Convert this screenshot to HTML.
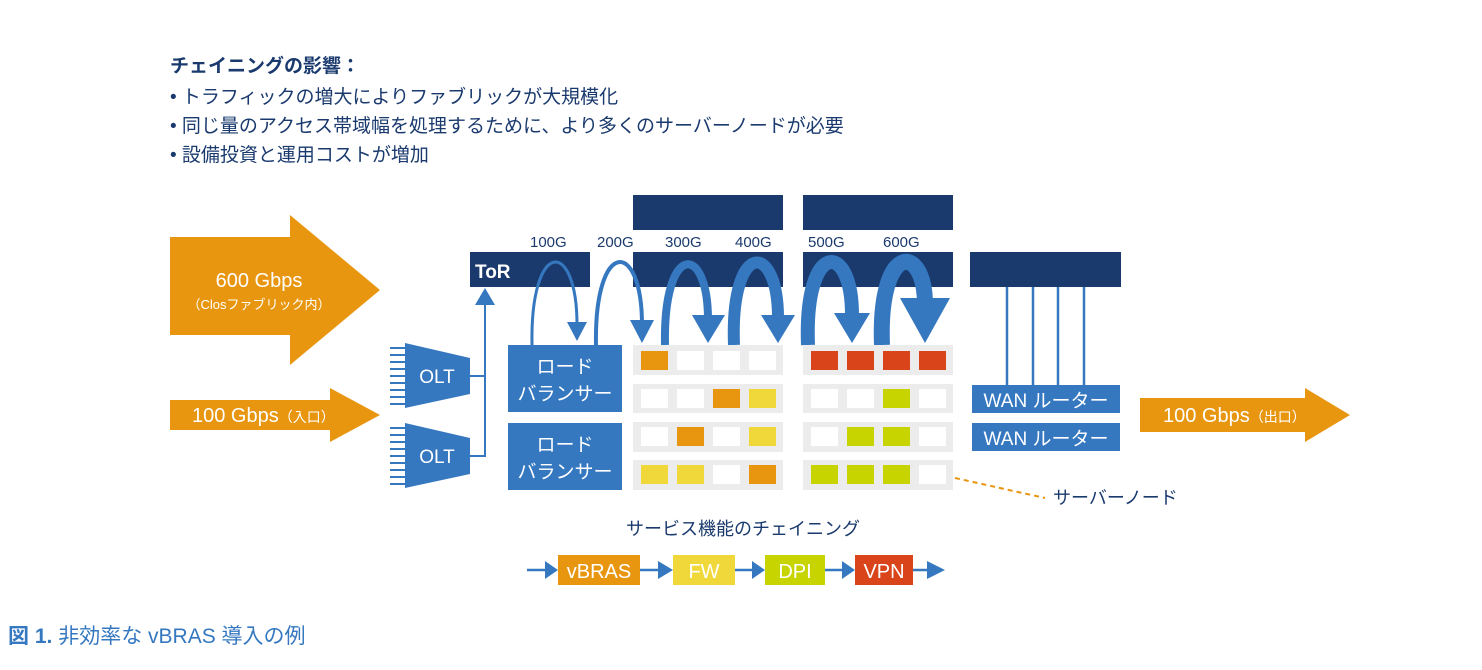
<!DOCTYPE html>
<html><head><meta charset="utf-8"><style>
body{margin:0;background:#fff;width:1482px;height:670px;overflow:hidden}
svg{display:block}
text{font-family:"Liberation Sans","Noto Sans CJK JP",sans-serif}
</style></head><body>
<svg width="1482" height="670" viewBox="0 0 1482 670">
<g fill="#1a3a6e" font-size="19">
<text x="170" y="72" font-weight="bold">チェイニングの影響：</text>
<text x="170" y="103">• トラフィックの増大によりファブリックが大規模化</text>
<text x="170" y="132">• 同じ量のアクセス帯域幅を処理するために、より多くのサーバーノードが必要</text>
<text x="170" y="161">• 設備投資と運用コストが増加</text>
</g>
<polygon points="170,237 290,237 290,215 380,290 290,365 290,335 170,335" fill="#e8960f"/>
<text x="259" y="287" fill="#fff" font-size="20" text-anchor="middle">600 Gbps</text>
<text x="259" y="309" fill="#fff" font-size="13" text-anchor="middle">（Closファブリック内）</text>
<polygon points="170,400 330,400 330,388 380,415 330,442 330,430 170,430" fill="#e8960f"/>
<text x="192" y="422" fill="#fff" font-size="20">100 Gbps<tspan font-size="14">（入口）</tspan></text>
<polygon points="1140,398 1305,398 1305,388 1350,415 1305,442 1305,432 1140,432" fill="#e8960f"/>
<text x="1163" y="422" fill="#fff" font-size="20">100 Gbps<tspan font-size="14">（出口）</tspan></text>
<g fill="#1a3a6e">
<rect x="633" y="195" width="150" height="35"/><rect x="803" y="195" width="150" height="35"/>
<rect x="470" y="252" width="120" height="35"/><rect x="633" y="252" width="150" height="35"/>
<rect x="803" y="252" width="150" height="35"/><rect x="970" y="252" width="151" height="35"/>
</g>
<text x="475" y="278" fill="#fff" font-size="19" font-weight="bold">ToR</text>
<g fill="#1a3a6e" font-size="15">
<text x="530" y="247">100G</text><text x="597" y="247">200G</text><text x="665" y="247">300G</text>
<text x="735" y="247">400G</text><text x="808" y="247">500G</text><text x="883" y="247">600G</text>
</g>
<g fill="none" stroke="#3578c0">
<path d="M532 345 C530 238,577 238,577 325" stroke-width="3"/>
<path d="M596 345 C594 238,642 238,642 325" stroke-width="4"/>
<path d="M665 345 C663 242,708 242,708 320" stroke-width="8"/>
<path d="M734 345 C730 240,778 240,778 318" stroke-width="12"/>
<path d="M808 345 C804 240,852 240,852 315" stroke-width="14"/>
<path d="M882 345 C878 242,925 242,925 305" stroke-width="16"/>
</g>
<g fill="#3578c0">
<polygon points="567,322 587,322 577,341"/>
<polygon points="630,320 654,320 642,343"/>
<polygon points="692,315 725,315 708,343"/>
<polygon points="761,315 795,315 778,343"/>
<polygon points="834,313 870,313 852,343"/>
<polygon points="900,298 950,298 925,343"/>
</g>
<g fill="#3578c0">
<polygon points="405,343 470,358 470,394 405,408"/>
<polygon points="405,423 470,438 470,474 405,488"/>
</g>
<g stroke="#3578c0" stroke-width="2">
<path d="M390 348h15M390 355h15M390 362h15M390 369h15M390 376h15M390 383h15M390 390h15M390 397h15M390 404h15"/>
<path d="M390 428h15M390 435h15M390 442h15M390 449h15M390 456h15M390 463h15M390 470h15M390 477h15M390 484h15"/>
<path d="M470 376h16M470 456h16M485 456V300" fill="none"/>
</g>
<polygon points="475,305 495,305 485,288" fill="#3578c0"/>
<text x="437" y="383" fill="#fff" font-size="19" text-anchor="middle">OLT</text>
<text x="437" y="463" fill="#fff" font-size="19" text-anchor="middle">OLT</text>
<rect x="508" y="345" width="114" height="67" fill="#3578c0"/>
<rect x="508" y="423" width="114" height="67" fill="#3578c0"/>
<g fill="#fff" font-size="19" text-anchor="middle">
<text x="565" y="373">ロード</text><text x="565" y="400">バランサー</text>
<text x="565" y="451">ロード</text><text x="565" y="478">バランサー</text>
</g>
<g fill="#ececec">
<rect x="633" y="345" width="150" height="30"/><rect x="633" y="384" width="150" height="29"/>
<rect x="633" y="422" width="150" height="30"/><rect x="633" y="460" width="150" height="30"/>
<rect x="803" y="345" width="150" height="30"/><rect x="803" y="384" width="150" height="29"/>
<rect x="803" y="422" width="150" height="30"/><rect x="803" y="460" width="150" height="30"/>
</g>
<g>
<rect x="641" y="351" width="27" height="19" fill="#e8960f"/><rect x="677" y="351" width="27" height="19" fill="#fff"/><rect x="713" y="351" width="27" height="19" fill="#fff"/><rect x="749" y="351" width="27" height="19" fill="#fff"/>
<rect x="641" y="389" width="27" height="19" fill="#fff"/><rect x="677" y="389" width="27" height="19" fill="#fff"/><rect x="713" y="389" width="27" height="19" fill="#e8960f"/><rect x="749" y="389" width="27" height="19" fill="#f0d83a"/>
<rect x="641" y="427" width="27" height="19" fill="#fff"/><rect x="677" y="427" width="27" height="19" fill="#e8960f"/><rect x="713" y="427" width="27" height="19" fill="#fff"/><rect x="749" y="427" width="27" height="19" fill="#f0d83a"/>
<rect x="641" y="465" width="27" height="19" fill="#f0d83a"/><rect x="677" y="465" width="27" height="19" fill="#f0d83a"/><rect x="713" y="465" width="27" height="19" fill="#fff"/><rect x="749" y="465" width="27" height="19" fill="#e8960f"/>
<rect x="811" y="351" width="27" height="19" fill="#d9441a"/><rect x="847" y="351" width="27" height="19" fill="#d9441a"/><rect x="883" y="351" width="27" height="19" fill="#d9441a"/><rect x="919" y="351" width="27" height="19" fill="#d9441a"/>
<rect x="811" y="389" width="27" height="19" fill="#fff"/><rect x="847" y="389" width="27" height="19" fill="#fff"/><rect x="883" y="389" width="27" height="19" fill="#c8d400"/><rect x="919" y="389" width="27" height="19" fill="#fff"/>
<rect x="811" y="427" width="27" height="19" fill="#fff"/><rect x="847" y="427" width="27" height="19" fill="#c8d400"/><rect x="883" y="427" width="27" height="19" fill="#c8d400"/><rect x="919" y="427" width="27" height="19" fill="#fff"/>
<rect x="811" y="465" width="27" height="19" fill="#c8d400"/><rect x="847" y="465" width="27" height="19" fill="#c8d400"/><rect x="883" y="465" width="27" height="19" fill="#c8d400"/><rect x="919" y="465" width="27" height="19" fill="#fff"/>
</g>
<g stroke="#3578c0" stroke-width="2.5"><path d="M1007 287V385M1033 287V385M1058 287V385M1084 287V385"/></g>
<rect x="972" y="385" width="148" height="28" fill="#3578c0"/>
<rect x="972" y="423" width="148" height="28" fill="#3578c0"/>
<text x="1046" y="407" fill="#fff" font-size="19" text-anchor="middle">WAN ルーター</text>
<text x="1046" y="445" fill="#fff" font-size="19" text-anchor="middle">WAN ルーター</text>
<path d="M955 478 L1045 498" stroke="#e8960f" stroke-width="2" stroke-dasharray="5,4"/>
<text x="1053" y="504" fill="#1a3a6e" font-size="18">サーバーノード</text>
<text x="743" y="535" fill="#1a3a6e" font-size="18" text-anchor="middle">サービス機能のチェイニング</text>
<g stroke="#3578c0" stroke-width="2.5"><path d="M527 570h20M640 570h20M735 570h20M825 570h20M913 570h15"/></g>
<g fill="#3578c0">
<polygon points="545,561 558,570 545,579"/><polygon points="658,561 673,570 658,579"/>
<polygon points="752,561 765,570 752,579"/><polygon points="842,561 855,570 842,579"/>
<polygon points="927,561 945,570 927,579"/>
</g>
<rect x="558" y="555" width="82" height="30" fill="#e8960f"/>
<rect x="673" y="555" width="62" height="30" fill="#f0d83a"/>
<rect x="765" y="555" width="60" height="30" fill="#c8d400"/>
<rect x="855" y="555" width="58" height="30" fill="#d9441a"/>
<g fill="#fff" font-size="20" text-anchor="middle">
<text x="599" y="578">vBRAS</text><text x="704" y="578">FW</text><text x="795" y="578">DPI</text><text x="884" y="578">VPN</text>
</g>
<text x="8" y="643" fill="#3578c0" font-size="21"><tspan font-weight="bold">図 1.</tspan> 非効率な vBRAS 導入の例</text>
</svg>
</body></html>
